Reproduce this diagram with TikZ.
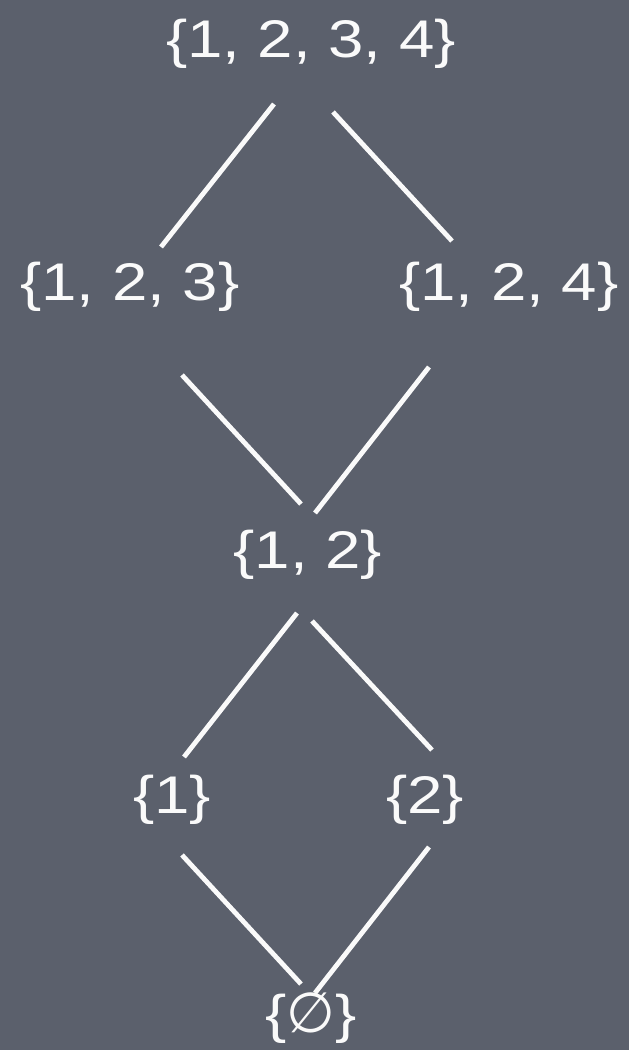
\documentclass[tikz,border=0pt]{standalone}
\usepackage{fontspec}
\setmainfont{Liberation Sans}[FakeStretch=1.2]
\newfontfamily\emptyfont{DejaVu Sans}
\usetikzlibrary{positioning}
\definecolor{board}{RGB}{91,96,108}
\definecolor{chalk}{HTML}{FAFAFA}

\begin{document}
\begin{tikzpicture}[x=1pt,y=-1pt,
set/.style={text=chalk,inner sep=0pt,font=\fontsize{53}{60}\selectfont},
link/.style={draw=chalk,line width=4.8pt}]
\fill[board](0,0)rectangle(629,1050);
\useasboundingbox(0,0)rectangle(629,1050);
% the lattice of subsets
\node[set](top)at(311,44){\{1, 2, 3, 4\}};
\node[set](a)at(130,287){\{1, 2, 3\}};
\node[set](b)at(509,287){\{1, 2, 4\}};
\node[set](ab)at(308,555){\{1, 2\}};
\node[set](one)at(172,800){\{1\}};
\node[set](two)at(425,800){\{2\}};
\node[set](none)at(311,1018){\{{\emptyfont\fontsize{56}{60}\selectfont ∅}\}};
% covering lines
\draw[link]([shift={(-37,60)}]top.center)--([shift={(31,-40)}]a.center);
\draw[link]([shift={(22,68)}]top.center)--([shift={(-57,-46)}]b.center);
\draw[link]([shift={(52,88)}]a.center)--([shift={(-7,-51)}]ab.center);
\draw[link]([shift={(-80,80)}]b.center)--([shift={(7,-42)}]ab.center);
\draw[link]([shift={(-11,58)}]ab.center)--([shift={(12,-43)}]one.center);
\draw[link]([shift={(4,66)}]ab.center)--([shift={(7,-50)}]two.center);
\draw[link]([shift={(10,55)}]one.center)--([shift={(-10,-34)}]none.center);
\draw[link]([shift={(4,47)}]two.center)--([shift={(4,-25)}]none.center);
\end{tikzpicture}
\end{document}
